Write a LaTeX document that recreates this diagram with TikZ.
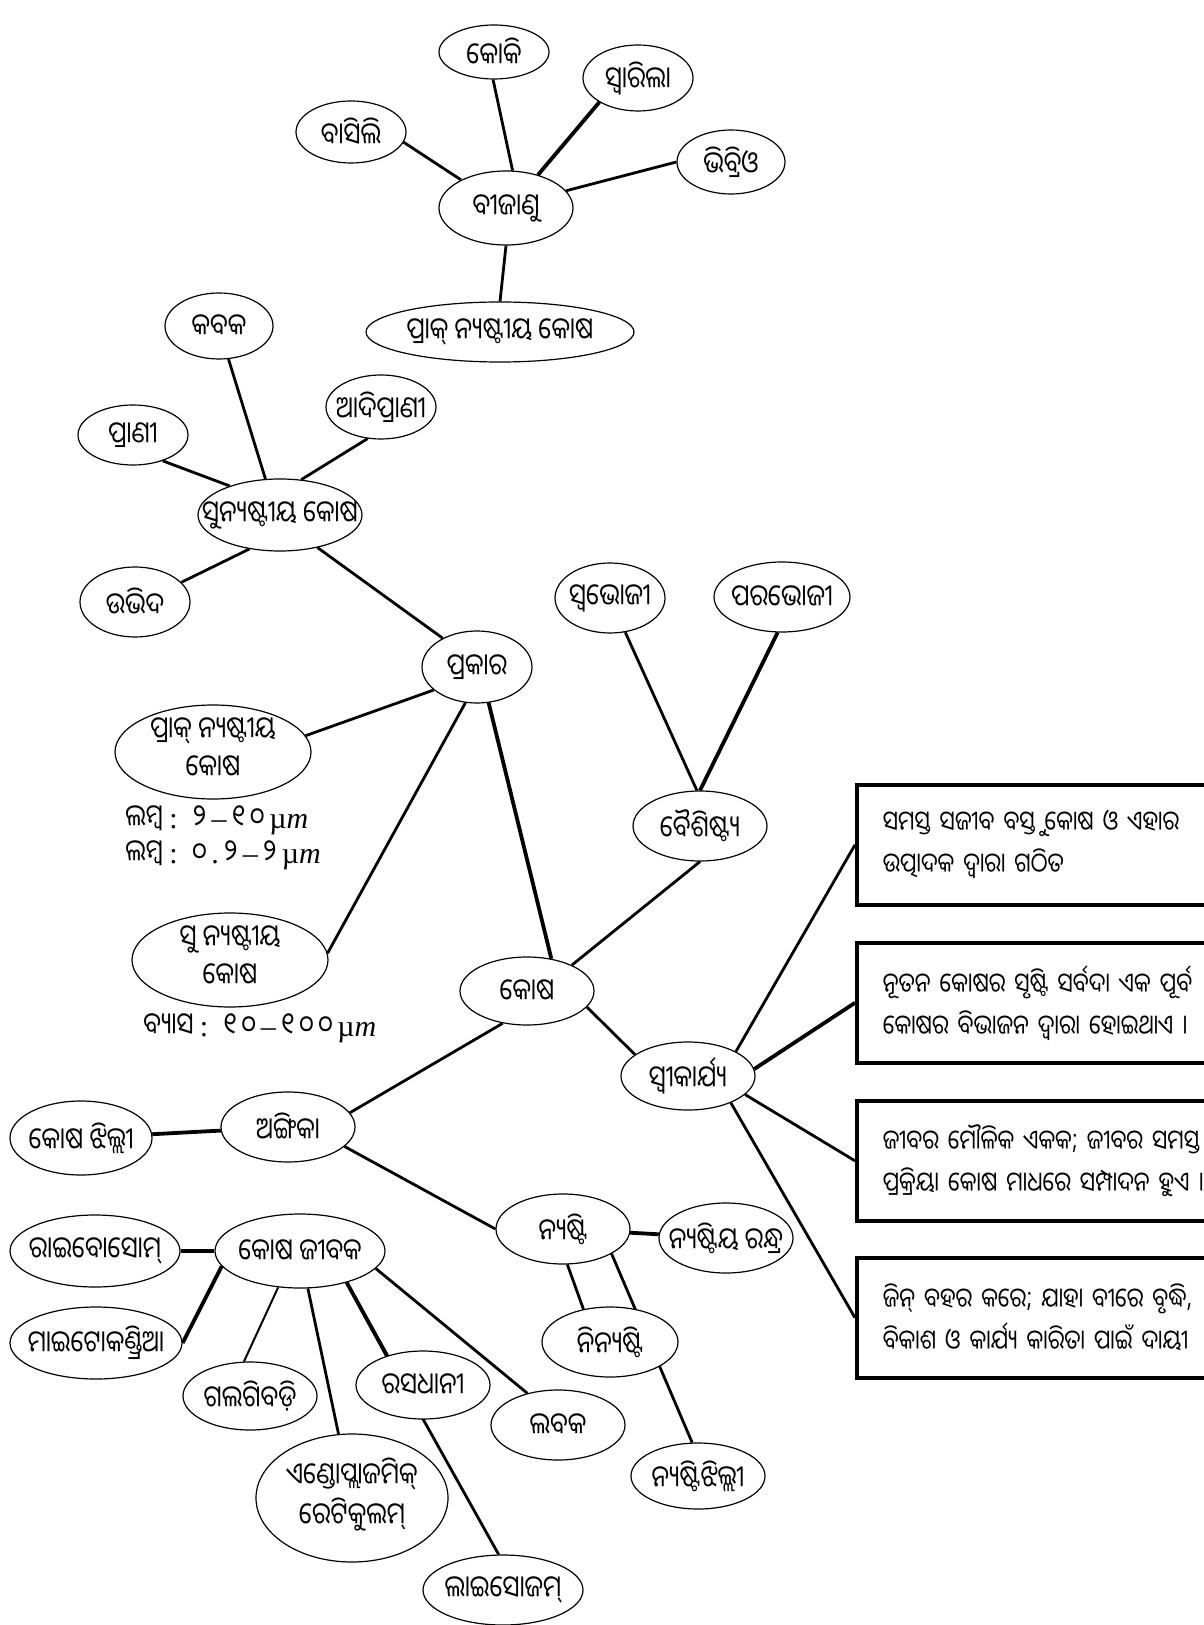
\documentclass[tikz,border=0pt]{standalone}
\usepackage{fontspec}
\setmainfont[Script=Oriya,FakeStretch=0.82]{Noto Sans Oriya UI}
\newfontfamily\latinfont{Liberation Serif}
\usetikzlibrary{shapes.geometric,backgrounds}

\tikzset{
  bubble/.style={ellipse, draw, line width=0.6pt, fill=white, inner sep=0pt,
    inner ysep=-4pt, font=\fontsize{15}{19}\selectfont},
  link/.style={line width=1.4pt},
  boldlink/.style={line width=1.9pt},
  factbox/.style={draw, line width=1.8pt, rectangle, anchor=north west,
    text width=250pt, inner xsep=13pt, minimum height=60pt, align=left,
    font=\fontsize{13.5}{21}\selectfont},
  sizetext/.style={anchor=west, inner sep=0pt, font=\fontsize{15}{18}\selectfont}
}
\newcommand{\nlab}[1]{\makebox[0pt]{#1}}
\newcommand{\nlabb}[2]{\makebox[0pt]{\begin{tabular}{@{}c@{}}#1\\#2\end{tabular}}}

\begin{document}
\begin{tikzpicture}[x=0.5pt,y=-0.5pt]
\useasboundingbox (0,0) rectangle (1203,1625);

% bacteria
\node[bubble, minimum width=67pt, minimum height=37pt] (bij) at (506,208) {\nlab{ବୀଜାଣୁ}};
\node[bubble, minimum width=55pt, minimum height=27pt] (koki) at (494,52) {\nlab{କୋକି}};
\node[bubble, minimum width=55pt, minimum height=33pt] (swarila) at (638,78) {\nlab{ସ୍ୱାରିଲା}};
\node[bubble, minimum width=55pt, minimum height=31pt] (basili) at (351,132) {\nlab{ବାସିଲି}};
\node[bubble, minimum width=54pt, minimum height=32pt] (vibrio) at (731,162) {\nlab{ଭିବ୍ରିଓ}};
\node[bubble, minimum width=134pt, minimum height=30pt] (praktop) at (500,332) {\nlab{ପ୍ରାକ୍ ନ୍ୟଷ୍ଟୀୟ କୋଷ}};

% eukaryotes
\node[bubble, minimum width=82pt, minimum height=36pt] (sunya) at (280,515) {\nlab{ସୁନ୍ୟଷ୍ଟୀୟ କୋଷ}};
\node[bubble, minimum width=54pt, minimum height=33pt] (kabak) at (219,326) {\nlab{କବକ}};
\node[bubble, minimum width=55pt, minimum height=32pt] (adiprani) at (381,407) {\nlab{ଆଦିପ୍ରାଣୀ}};
\node[bubble, minimum width=55pt, minimum height=30pt] (prani) at (133,435) {\nlab{ପ୍ରାଣୀ}};
\node[bubble, minimum width=55pt, minimum height=35pt] (ubhid) at (135,602) {\nlab{ଉଭିଦ}};

% types
\node[bubble, minimum width=55pt, minimum height=36pt] (prakar) at (477,667) {\nlab{ପ୍ରକାର}};
\node[bubble, minimum width=98pt, minimum height=47pt] (prak) at (213,752) {\nlabb{ପ୍ରାକ୍ ନ୍ୟଷ୍ଟୀୟ}{କୋଷ}};
\node[bubble, minimum width=98pt, minimum height=47pt] (su) at (230,960) {\nlabb{ସୁ ନ୍ୟଷ୍ଟୀୟ}{କୋଷ}};
\node[sizetext] (lenA) at (125,820) {ଲମ୍ବ~{\latinfont :}~ ୨{\latinfont\,–\,}୧\,୦\,{\latinfont µ\textit{m}}};
\node[sizetext] (lenB) at (125,855) {ଲମ୍ବ~{\latinfont :}~ ୦{\latinfont\,.\,}୨{\latinfont\,–\,}୨\,{\latinfont µ\textit{m}}};
\node[sizetext] (dia) at (143,1028) {ବ୍ୟାସ~{\latinfont :}~ ୧\,୦{\latinfont\,–\,}୧\,୦\,୦\,{\latinfont µ\textit{m}}};

% features
\node[bubble, minimum width=55pt, minimum height=35pt] (swabhoji) at (610,598) {\nlab{ସ୍ୱଭୋଜୀ}};
\node[bubble, minimum width=68pt, minimum height=35pt] (parabhoji) at (782,597) {\nlab{ପରଭୋଜୀ}};
\node[bubble, minimum width=67pt, minimum height=35pt] (baisistya) at (700,826) {\nlab{ବୈଶିଷ୍ଟ୍ୟ}};

% centre
\node[bubble, minimum width=67pt, minimum height=34pt] (kosha) at (527,991) {\nlab{କୋଷ}};
\node[bubble, minimum width=67pt, minimum height=34pt] (swikarya) at (688,1076) {\nlab{ସ୍ୱୀକାର୍ଯ୍ୟ}};

% cell theory
\node[factbox] (fact1) at (855,783) {ସମସ୍ତ ସଜୀବ ବସ୍ତୁ କୋଷ ଓ ଏହାର\\ଉତ୍ପାଦକ ଦ୍ୱାରା ଗଠିତ};
\node[factbox] (fact2) at (855,941) {ନୂତନ କୋଷର ସୃଷ୍ଟି ସର୍ବଦା ଏକ ପୂର୍ବ\\କୋଷର ବିଭାଜନ ଦ୍ୱାରା ହୋଇଥାଏ ।};
\node[factbox] (fact3) at (855,1099) {ଜୀବର ମୌଳିକ ଏକକ; ଜୀବର ସମସ୍ତ\\ପ୍ରକ୍ରିୟା କୋଷ ମାଧରେ ସମ୍ପାଦନ ହୁଏ ।};
\node[factbox] (fact4) at (855,1256) {ଜିନ୍ ବହର କରେ; ଯାହା ବୀରେ ବୃଦ୍ଧି,\\ବିକାଶ ଓ କାର୍ଯ୍ୟ କାରିତା ପାଇଁ ଦାୟୀ};

% organelles
\node[bubble, minimum width=67pt, minimum height=35pt] (angika) at (288,1127) {\nlab{ଅଙ୍ଗିକା}};
\node[bubble, minimum width=71pt, minimum height=37pt] (jhilli) at (81,1138) {\nlab{କୋଷ ଝିଲ୍ଲୀ}};
\node[bubble, minimum width=85pt, minimum height=37pt] (jibak) at (300,1251) {\nlab{କୋଷ ଜୀବକ}};
\node[bubble, minimum width=85pt, minimum height=36pt] (ribo) at (95,1251) {\nlab{ରାଇବୋସୋମ୍}};
\node[bubble, minimum width=86pt, minimum height=36pt] (mito) at (96,1343) {\nlab{ମାଇଟୋକଣ୍ଡ୍ରିଆ}};
\node[bubble, minimum width=67pt, minimum height=34pt] (galgi) at (250,1396) {\nlab{ଗଲଗିବଡ଼ି}};
\node[bubble, minimum width=96pt, minimum height=64pt] (er) at (352,1498) {\nlabb{ଏଣ୍ଡୋପ୍ଲାଜମିକ୍}{ରେଟିକୁଲମ୍}};
\node[bubble, minimum width=67pt, minimum height=34pt] (rasadhani) at (423,1385) {\nlab{ରସଧାନୀ}};
\node[bubble, minimum width=80pt, minimum height=35pt] (lyso) at (503,1590) {\nlab{ଲାଇସୋଜମ୍}};
\node[bubble, minimum width=67pt, minimum height=35pt] (labak) at (558,1425) {\nlab{ଲବକ}};

% nucleus
\node[bubble, minimum width=67pt, minimum height=35pt] (nyasti) at (563,1229) {\nlab{ନ୍ୟଷ୍ଟି}};
\node[bubble, minimum width=67pt, minimum height=35pt] (randhra) at (726,1238) {\nlab{ନ୍ୟଷ୍ଟିୟ ରନ୍ଧ୍ର}};
\node[bubble, minimum width=68pt, minimum height=35pt] (ninyasti) at (610,1342) {\nlab{ନିନ୍ୟଷ୍ଟି}};
\node[bubble, minimum width=67pt, minimum height=33pt] (nyjhilli) at (698,1476) {\nlab{ନ୍ୟଷ୍ଟିଝିଲ୍ଲୀ}};

\begin{scope}[on background layer]
\draw[link] (bij.80) -- (koki.268);
\draw[boldlink] (bij.46) -- (swarila.212);
\draw[link] (bij.148) -- (basili.-11);
\draw[link] (bij.16) -- (vibrio.180);
\draw[link] (bij.south) -- (praktop.north);
\draw[link] (sunya.112) -- (kabak.-74);
\draw[link] (sunya.150) -- (prani.-41);
\draw[link] (sunya.59) -- (adiprani.247);
\draw[link] (sunya.228) -- (ubhid.23);
\draw[link] (sunya.-41) -- (prakar.140);
\draw[link] (prakar.208) -- (prak.10);
\draw[link] (prakar.252) -- (su.4);
\draw[boldlink] (prakar.-72) -- (kosha.53);
\draw[link] (baisistya.95) -- (swabhoji.-66);
\draw[boldlink] (baisistya.90) -- (parabhoji.263);
\draw[link] (baisistya.south) -- (kosha.30);
\draw[link] (kosha.-15) -- (swikarya.158);
\draw[link] (kosha.233) -- (angika.13);
\draw[link] (swikarya.27) -- (fact1.west);
\draw[boldlink] (swikarya.6) -- (fact2.west);
\draw[link] (swikarya.-18) -- (fact3.west);
\draw[link] (swikarya.-32) -- (fact4.west);
\draw[boldlink] (angika) -- (jhilli);
\draw[link] (angika.-19) -- (nyasti.west);
\draw[boldlink] (jibak) -- (ribo);
\draw[boldlink] (jibak.191) -- (mito.east);
\draw[line width=1pt] (jibak.239) -- (galgi.100);
\draw[link] (jibak) -- (er);
\draw[link] (jibak.-34) -- (lyso.97);
\draw[boldlink] (jibak.-34) -- (rasadhani.141);
\draw[link] (jibak.-13.5) -- (labak.134);
\draw[boldlink] (nyasti) -- (randhra);
\draw[link] (nyasti.-83) -- (ninyasti.129);
\draw[link] (nyasti.-27) -- (nyjhilli.100);
\end{scope}
\end{tikzpicture}
\end{document}
